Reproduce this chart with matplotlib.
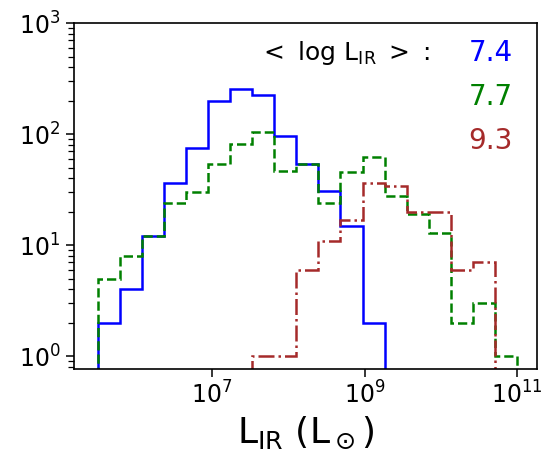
import numpy as np
import matplotlib
matplotlib.use("Agg")
import matplotlib.pyplot as plt

# log10(L_IR) bin edges shared by all three samples
log_edges = np.linspace(5.5, 11.0, 20)

# counts per bin
counts_blue = [2, 4, 12, 36, 75, 200, 255, 225, 96, 54, 31, 15, 2, 0, 0, 0, 0, 0, 0]
counts_green = [5, 8, 12, 24, 30, 54, 81, 104, 47, 54, 24, 46, 62, 28, 19, 13, 2, 3, 1]
counts_red = [0, 0, 0, 0, 0, 0, 0, 1, 1, 6, 11, 17, 36, 34, 20, 20, 6, 7, 0]

mean_labels = ["7.4", "7.7", "9.3"]
colors = ["blue", "green", "brown"]
styles = ["-", "--", "-."]

fig = plt.figure(figsize=(5.43, 4.55), dpi=100)
ax = fig.add_axes([0.136, 0.19, 0.853, 0.759])

edges = 10 ** log_edges
for c, col, ls in zip([counts_blue, counts_green, counts_red], colors, styles):
    ax.stairs(c, edges, color=col, linestyle=ls, linewidth=1.8, baseline=1e-3)

ax.set_xscale("log")
ax.set_yscale("log")
ax.set_xlim(10 ** 5.19, 10 ** 11.26)
ax.set_ylim(0.775, 1000)

ax.set_xticks([1e7, 1e9, 1e11])
ax.xaxis.set_minor_locator(matplotlib.ticker.NullLocator())
ax.tick_params(axis="both", which="major", labelsize=17, length=6, width=1.1)
ax.tick_params(axis="y", which="minor", length=4.5, width=0.9)
for sp in ax.spines.values():
    sp.set_linewidth(1.2)

ax.set_xlabel(r"L$_{\rm IR}$ (L$_\odot$)", fontsize=26)

ax.text(0.769, 0.913, r"$<$ log L$_{\rm IR}$ $>$ :", transform=ax.transAxes,
        ha="right", va="center", fontsize=18)
for lab, col, y in zip(mean_labels, colors, [0.913, 0.785, 0.66]):
    ax.text(0.948, y, lab, color=col, transform=ax.transAxes,
            ha="right", va="center", fontsize=20)

fig.savefig("out.png", dpi=100)
